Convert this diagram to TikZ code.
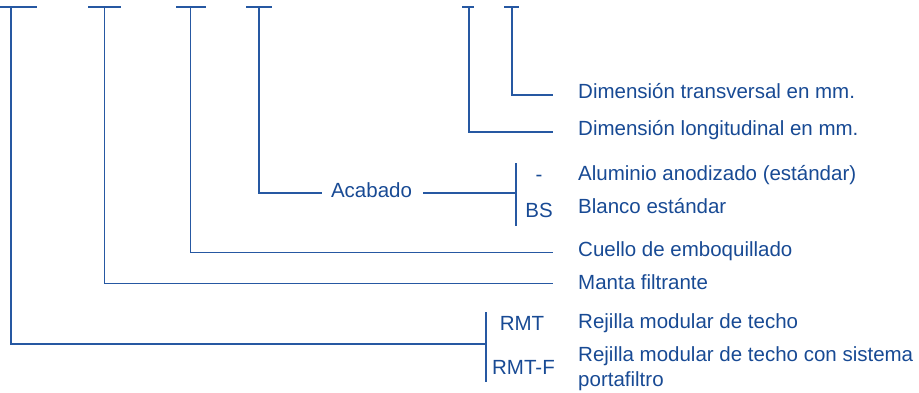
\documentclass[tikz,border=0pt]{standalone}
\usepackage{fontspec}
\setmainfont{Liberation Sans}
\definecolor{txtblue}{RGB}{24,74,148}
\definecolor{lnblue}{RGB}{38,88,162}
\begin{document}
\begin{tikzpicture}[x=1pt,y=-1pt,
  ln/.style={draw=lnblue,line width=1.4pt},
  lbl/.style={inner sep=0pt,anchor=base west,text=txtblue,font=\fontsize{20.5}{25}\selectfont},
  code/.style={inner sep=0pt,anchor=base,text=txtblue,font=\fontsize{20.5}{25}\selectfont}]
\useasboundingbox (0,0) rectangle (919,392);
% top tick coordinates
\coordinate (t1) at (11,7);
\coordinate (t2) at (104.5,7);
\coordinate (t3) at (190.5,7);
\coordinate (t4) at (259,7);
\coordinate (t5) at (469,7);
\coordinate (t6) at (512,7);
% top ticks
\draw[ln] ([xshift=-11pt]t1) -- ([xshift=26pt]t1);
\draw[ln] ([xshift=-16.5pt]t2) -- ([xshift=16.5pt]t2);
\draw[ln] ([xshift=-14.5pt]t3) -- ([xshift=15.5pt]t3);
\draw[ln] ([xshift=-13pt]t4) -- ([xshift=13pt]t4);
\draw[ln] ([xshift=-7pt]t5) -- ([xshift=5pt]t5);
\draw[ln] ([xshift=-8pt]t6) -- ([xshift=7pt]t6);
% labels
\node[lbl] (dtr) at (578,98) {Dimensión transversal en mm.};
\node[lbl] (dlo) at (578,135.5) {Dimensión longitudinal en mm.};
\node[lbl] (alu) at (578,180) {Aluminio anodizado (estándar)};
\node[lbl] (bla) at (578,213) {Blanco estándar};
\node[lbl] (cue) at (578,256) {Cuello de emboquillado};
\node[lbl] (man) at (578,289) {Manta filtrante};
\node[lbl] (rmt) at (578,328) {Rejilla modular de techo};
\node[lbl] (rmtfa) at (578,361.5) {Rejilla modular de techo con sistema};
\node[lbl] (rmtfb) at (578,386.5) {portafiltro};
\node[code] (aca) at (371.5,197) {Acabado};
\node[code] (dash) at (539,181) {-};
\node[code] (bs) at (539,217.5) {BS};
\node[code] (crmt) at (522,330) {RMT};
\node[code] (crmtf) at (523.5,374) {RMT-F};
% line ends
\coordinate (e6) at (553,95);
\coordinate (e5) at (553,132);
\coordinate (e3) at (553,252.5);
\coordinate (e2) at (553,283.5);
\coordinate (a1) at (322,193);
\coordinate (a2) at (423,193);
\coordinate (b2t) at (516,163);
\coordinate (b2b) at (516,226);
\coordinate (b1t) at (486,312);
\coordinate (b1b) at (486,382);
\coordinate (m1) at (486,344);
% connectors
\draw[ln] (t6) |- (e6);
\draw[ln] (t5) |- (e5);
\draw[ln] (t4) |- (a1);
\draw[ln] (a2) -- (a2 -| b2t);
\draw[ln] (b2t) -- (b2b);
\draw[ln] (t3) |- (e3);
\draw[ln] (t2) |- (e2);
\draw[ln] (t1) |- (m1);
\draw[ln] (b1t) -- (b1b);
\end{tikzpicture}
\end{document}
